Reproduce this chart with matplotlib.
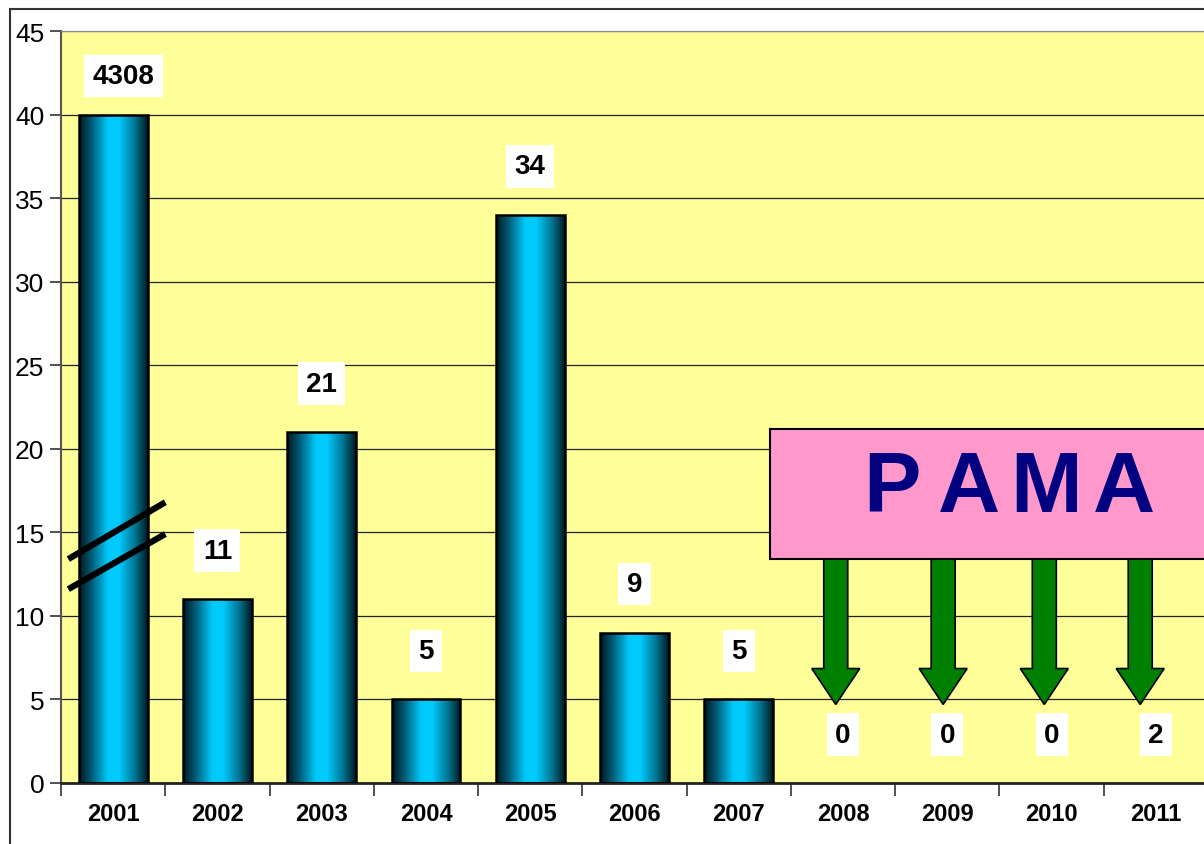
import numpy as np
import matplotlib.pyplot as plt
from matplotlib.colors import LinearSegmentedColormap
from matplotlib.patches import Rectangle, FancyArrow
from matplotlib.lines import Line2D

plt.rcParams['font.family'] = ['Liberation Sans', 'DejaVu Sans']

years = ['2001', '2002', '2003', '2004', '2005', '2006', '2007',
         '2008', '2009', '2010', '2011']
values = [4308, 11, 21, 5, 34, 9, 5, 0, 0, 0, 2]
axis_cap = 40          # 2001 bar is cut at 40 (broken axis)
pama_years = ['2008', '2009', '2010', '2011']
box_text = 'PAMA'

x = np.arange(len(years))
shown = [y not in pama_years for y in years]
heights = [min(v, axis_cap) if s else 0 for v, s in zip(values, shown)]

fig = plt.figure(figsize=(12.04, 8.45), dpi=100)
ax = fig.add_axes([61 / 1204, 61 / 845, (1208 - 61) / 1204, (784 - 32) / 845])
ax.set_facecolor('#FFFF99')

# outer frame of the slide
fig.add_artist(Line2D([10 / 1204, 10 / 1204], [0, 1 - 10 / 845], color='#333333', lw=1.5,
                      transform=fig.transFigure))
fig.add_artist(Line2D([10 / 1204, 1], [1 - 10 / 845, 1 - 10 / 845], color='#333333', lw=1.5,
                      transform=fig.transFigure))

ax.yaxis.grid(True, color='#222222', lw=0.9)
ax.set_axisbelow(True)

cmap = LinearSegmentedColormap.from_list('cyl', [
    (0.0, '#001820'), (0.18, '#005a74'), (0.42, '#00c8fa'),
    (0.58, '#00ccff'), (0.82, '#00728f'), (1.0, '#001820')])
grad = np.linspace(0, 1, 256).reshape(1, -1)

xs = x[np.array(shown)]
hs = [h for h, s in zip(heights, shown) if s]
bars = ax.bar(xs, hs, width=0.66, facecolor='none', edgecolor='black', lw=1.8, zorder=3)
for b in bars:
    im = ax.imshow(grad, cmap=cmap, aspect='auto', zorder=2.5,
                   extent=[b.get_x(), b.get_x() + b.get_width(), 0, b.get_height()])
    im.set_clip_path(b)
ax.set_xlim(-0.5, len(years) - 0.5)
ax.set_ylim(0, 45)
ax.set_yticks(np.arange(0, 46, 5))

# value labels in white boxes
for xi, h, v in zip(x, heights, values):
    ypos = 42.3 if v > axis_cap else h + 2.9
    ax.text(xi + (0.1 if v > axis_cap else 0), ypos, str(v),
            ha='center', va='center', fontsize=20, fontweight='bold', color='black',
            bbox=dict(boxstyle='square,pad=0.3', fc='white', ec='none'), zorder=6)

# broken-axis marks on the 2001 bar
ax.plot([-0.43, 0.5], [13.4, 16.8], color='black', lw=4.5, solid_capstyle='butt', zorder=5)
ax.plot([-0.43, 0.5], [11.6, 14.9], color='black', lw=4.5, solid_capstyle='butt', zorder=5)

# PAMA box with arrows
ax.add_patch(Rectangle((6.30, 13.4), 5, 7.8, facecolor='#FF99CC', edgecolor='black',
                       lw=1.5, zorder=7, clip_on=False))
for i, ch in enumerate(box_text):
    ax.text(7.47 + i * 0.74, 17.6, ch, ha='center', va='center', fontsize=62,
            fontweight='bold', color='#000080', zorder=8)
arrow_x = [6.93, 7.96, 8.93, 9.85]
for axx in arrow_x:
    ax.add_patch(FancyArrow(axx, 13.45, 0, 4.7 - 13.45, width=0.23, head_width=0.46,
                            head_length=2.15, length_includes_head=True,
                            facecolor='#008000', edgecolor='black', lw=1.2, zorder=6))

# ticks
ax.set_xticks(np.arange(-0.5, len(years), 1.0))
ax.set_xticklabels([])
ax.set_xticks(x, minor=True)
ax.set_xticklabels(years, minor=True, fontsize=17, fontweight='bold')
ax.tick_params(axis='x', which='major', length=9, width=1.2, color='#333333', direction='out')
ax.tick_params(axis='x', which='minor', length=0, pad=14)
ax.tick_params(axis='y', length=8, width=1.2, color='#333333', labelsize=19, pad=4)

for s in ['top', 'right']:
    ax.spines[s].set_color('#888888')
ax.spines['left'].set_color('#555555')
ax.spines['left'].set_linewidth(1.5)
ax.spines['bottom'].set_color('#222222')
ax.spines['bottom'].set_linewidth(2)

plt.savefig('out.png', dpi=100)
